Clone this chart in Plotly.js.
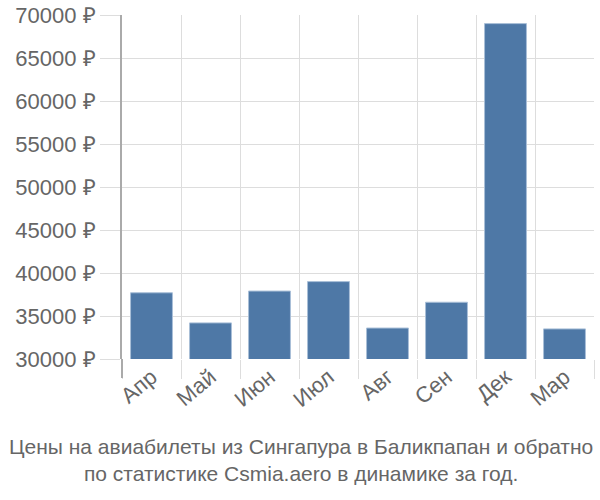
<!DOCTYPE html>
<html><head><meta charset="utf-8">
<script src="https://cdn.plot.ly/plotly-3.0.1.min.js"></script>
<style>body{margin:0;padding:0;}#chart{width:600px;height:500px;}</style>
</head><body><div id="chart"></div>
<script>
const months = ["Апр","Май","Июн","Июл","Авг","Сен","Дек","Мар"];
const prices = [37700, 34200, 37900, 39000, 33600, 36600, 69000, 33500];
const yTicks = [30000,35000,40000,45000,50000,55000,60000,65000,70000];
const titleLines = ["Цены на авиабилеты из Сингапура в Баликпапан и обратно","по статистике Csmia.aero в динамике за год."];

const data = [{
  type: "bar", x: months, y: prices,
  marker: {color: "#4e78a6", line: {color: "#a9bfd8", width: 1}},
  hoverinfo: "none"
}];
const layout = {
  width: 600, height: 500,
  margin: {l: 122, r: 6, t: 15, b: 141},
  paper_bgcolor: "#fff", plot_bgcolor: "#fff",
  font: {family: "Liberation Sans, Arial, sans-serif", size: 22, color: "#666"},
  bargap: 0.29,
  showlegend: false,
  xaxis: {
    type: "category", tickson: "boundaries", ticks: "outside", ticklen: 19,
    tickcolor: "#ddd", gridcolor: "#ddd", showgrid: true, tickangle: -40,
    showline: false, zeroline: false, tickfont: {size: 22, color: "#666"}
  },
  yaxis: {
    range: [30000, 70000], tickvals: yTicks, ticktext: yTicks.map(v => v + " ₽"),
    ticks: "outside", ticklen: 20, tickcolor: "#ddd", gridcolor: "#ddd",
    showline: true, linecolor: "#aaa", linewidth: 2, zeroline: false,
    tickfont: {size: 22, color: "#666"}
  },
  shapes: [{type: "line", xref: "paper", yref: "paper", x0: 0, x1: 0, y0: 0, y1: -0.055, line: {color: "#aaa", width: 2}}],
  annotations: [{
    xref: "paper", yref: "paper", x: 0.5, xanchor: "center", y: -0.2, yanchor: "top",
    xshift: -57, yshift: -5,
    text: titleLines.join("<br>"), showarrow: false,
    font: {size: 21, color: "#666"}, align: "center"
  }]
};
Plotly.newPlot("chart", data, layout, {displayModeBar: false, staticPlot: true});
</script></body></html>
